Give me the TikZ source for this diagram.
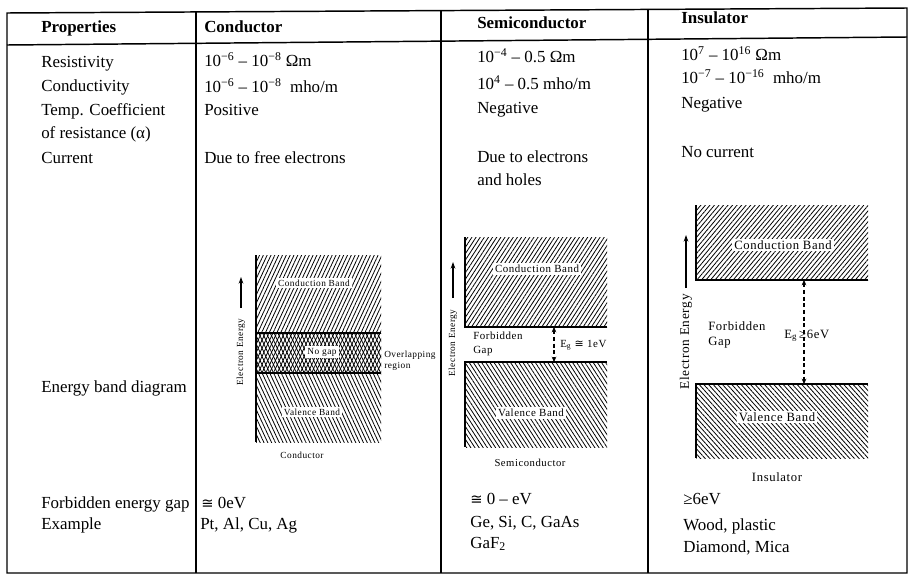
\documentclass[tikz,border=0pt]{standalone}
\usepackage{fontspec}
\setmainfont{Liberation Serif}
\newfontfamily\bandfont[LetterSpace=5]{Liberation Serif}
\newfontfamily\approxfont{DejaVu Sans}
\usetikzlibrary{arrows.meta,patterns.meta}

\begin{document}
\begin{tikzpicture}
[x=0.75pt,y=-0.75pt,
 cellDecorate/.style={anchor=base west,inner sep=0pt,font=\fontsize{12.7}{15}\selectfont},
 headDecorate/.style={anchor=base west,inner sep=0pt,font=\fontsize{12.7}{15}\selectfont\bfseries},
 lineDecorate/.style={line width=1.1pt},
 edgeDecorate/.style={line width=1.1pt},
 bandDecorate/.style={fill=white,inner sep=1.5pt},
 smallDecorate/.style={inner sep=0pt,align=left,font=\bandfont\fontsize{7}{8}\selectfont},
 energyDecorate/.style={rotate=90,inner sep=0pt},
 upDecorate/.style={-{Stealth[length=5pt,width=3.5pt]},line width=0.9pt},
 gapDecorate/.style={densely dashed,line width=0.8pt,
   {Stealth[length=4pt,width=3.5pt]}-{Stealth[length=4pt,width=3.5pt]}},
 hatchDecorate/.style={pattern={Lines[angle=#1,distance=2.6pt,line width=0.6pt]}}]
\useasboundingbox (0,0) rectangle (913,582);
%% table frame
\coordinate (tl) at (7,13);
\coordinate (tr) at (907,8);
\coordinate (br) at (907,573);
\coordinate (bl) at (7,573);
\draw[lineDecorate] (tl) -- (tr) -- (br) -- (bl) -- cycle;
\coordinate (hl) at (7,45);
\coordinate (hr) at (907,37);
\draw[lineDecorate] (hl) -- (hr);
\foreach \colname/\x/\y in {cond/196/12, semi/441/10.6, ins/648/9.4}
{
  \draw[lineDecorate] (\x,\y) -- (\x,573);
}
%% header row
\foreach \nodename/\x/\y/\txt in {
  hProp/41/32/{Properties}, hCond/204/32/{Conductor},
  hSemi/477/28/{Semiconductor}, hIns/681/23/{Insulator}}
{
  \node[headDecorate] (\nodename) at (\x,\y) {\txt};
}
%% property column
\foreach \nodename/\y/\txt in {
  pRes/67/{Resistivity}, pCon/91/{Conductivity}, pTemp/115/{Temp. Coefficient},
  pTempb/138/{of resistance (α)}, pCur/163/{Current}, pBand/392/{Energy band diagram},
  pGap/508/{Forbidden energy gap}, pEx/529/{Example}}
{
  \node[cellDecorate] (\nodename) at (41,\y) {\txt};
}
%% conductor column
\foreach \nodename/\x/\y/\txt in {
  cRes/204/66/{10\textsuperscript{−6} – 10\textsuperscript{−8} Ωm},
  cCon/204/92/{10\textsuperscript{−6} – 10\textsuperscript{−8}\ \ mho/m},
  cTemp/204/115/{Positive}, cCur/204/163/{Due to free electrons},
  cGap/201/508/{{\approxfont\fontsize{11}{13}\selectfont ≅} 0eV}, cEx/200/529/{Pt, Al, Cu, Ag}}
{
  \node[cellDecorate] (\nodename) at (\x,\y) {\txt};
}
%% semiconductor column
\foreach \nodename/\x/\y/\txt in {
  sRes/477/62/{10\textsuperscript{−4} – 0.5 Ωm},
  sCon/477/89/{10\textsuperscript{4} – 0.5 mho/m},
  sTemp/477/113/{Negative}, sCur/477/162/{Due to electrons},
  sCurb/477/185/{and holes}, sGap/470/504/{{\approxfont\fontsize{11}{13}\selectfont ≅} 0 – eV},
  sEx/470/527/{Ge, Si, C, GaAs}, sExb/470/548/{GaF\textsubscript{2}}}
{
  \node[cellDecorate] (\nodename) at (\x,\y) {\txt};
}
%% insulator column
\foreach \nodename/\x/\y/\txt in {
  iRes/681/60/{10\textsuperscript{7} – 10\textsuperscript{16} Ωm},
  iCon/681/83/{10\textsuperscript{−7} – 10\textsuperscript{−16}\ \ mho/m},
  iTemp/681/108/{Negative}, iCur/681/157/{No current},
  iGap/683/504/{≥6eV}, iEx/683/530/{Wood, plastic}, iExb/683/552/{Diamond, Mica}}
{
  \node[cellDecorate] (\nodename) at (\x,\y) {\txt};
}
%% conductor bands
\fill[hatchDecorate=65] (256,255) rectangle (381,373);
\fill[hatchDecorate=-65] (256,333) rectangle (381,442);
\draw[edgeDecorate] (256,255) -- (256,442);
\draw[edgeDecorate] (256,333) -- (381,333) (256,373) -- (381,373);
\node[bandDecorate,font=\bandfont\fontsize{7}{8}\selectfont] (cCB) at (314,283) {Conduction Band};
\node[bandDecorate,font=\bandfont\fontsize{7}{8}\selectfont] (cNG) at (322,352) {No gap};
\node[bandDecorate,font=\bandfont\fontsize{7}{8}\selectfont] (cVB) at (312,412) {Valence Band};
\node[smallDecorate,anchor=west] (cOver) at (384,361) {Overlapping\\region};
\node[energyDecorate,font=\bandfont\fontsize{7}{8}\selectfont] (cE) at (241,352) {Electron Energy};
\coordinate (cEtail) at (241,308);
\coordinate (cEhead) at (241,277);
\draw[upDecorate] (cEtail) -- (cEhead);
\node[font=\bandfont\fontsize{7}{8}\selectfont] (cName) at (302,455) {Conductor};
%% semiconductor bands
\fill[hatchDecorate=57] (465,237) rectangle (607,327);
\fill[hatchDecorate=-57] (465,362) rectangle (607,447);
\draw[edgeDecorate] (465,237) -- (465,327) -- (607,327);
\draw[edgeDecorate] (607,362) -- (465,362) -- (465,447);
\node[bandDecorate,font=\bandfont\fontsize{8.2}{9}\selectfont] (sCB) at (537,269) {Conduction Band};
\node[bandDecorate,font=\bandfont\fontsize{8.2}{9}\selectfont] (sVB) at (531,413) {Valence Band};
\node[smallDecorate,anchor=west,font=\bandfont\fontsize{8.2}{10}\selectfont] (sFG) at (473,344) {Forbidden\\Gap};
\coordinate (sgT) at (554,327);
\coordinate (sgB) at (554,362);
\draw[gapDecorate] (sgT) -- (sgB);
\node[anchor=west,inner sep=0pt,font=\bandfont\fontsize{8.2}{9}\selectfont] (sEg) at (560,345) {E\textsubscript{g} {\approxfont ≅} 1eV};
\node[energyDecorate,font=\bandfont\fontsize{7}{8}\selectfont] (sE) at (453,343) {Electron Energy};
\coordinate (sEtail) at (453,298);
\coordinate (sEhead) at (453,262);
\draw[upDecorate] (sEtail) -- (sEhead);
\node[font=\bandfont\fontsize{8}{9}\selectfont] (sName) at (530,463) {Semiconductor};
%% insulator bands
\fill[hatchDecorate=50] (696,205) rectangle (868,280);
\fill[hatchDecorate=-48] (696,384) rectangle (868,458);
\draw[edgeDecorate] (696,205) -- (696,280) -- (868,280);
\draw[edgeDecorate] (868,384) -- (696,384) -- (696,458);
\node[bandDecorate,font=\bandfont\fontsize{9.5}{11}\selectfont] (iCB) at (783,245) {Conduction Band};
\node[bandDecorate,font=\bandfont\fontsize{9.5}{11}\selectfont] (iVB) at (777,417) {Valence Band};
\node[smallDecorate,anchor=west,font=\bandfont\fontsize{9.5}{11.5}\selectfont] (iFG) at (708,335) {Forbidden\\Gap};
\coordinate (igT) at (804,280);
\coordinate (igB) at (804,384);
\draw[gapDecorate] (igT) -- (igB);
\node[anchor=west,inner sep=0pt,font=\bandfont\fontsize{9.5}{11}\selectfont] (iEg) at (784,336) {E\textsubscript{g}\,≥6eV};
\node[energyDecorate,font=\bandfont\fontsize{10}{11}\selectfont] (iE) at (686,342) {Electron Energy};
\coordinate (iEtail) at (686,288);
\coordinate (iEhead) at (686,235);
\draw[upDecorate] (iEtail) -- (iEhead);
\node[font=\bandfont\fontsize{9.5}{11}\selectfont] (iName) at (777,477) {Insulator};
\end{tikzpicture}
\end{document}
